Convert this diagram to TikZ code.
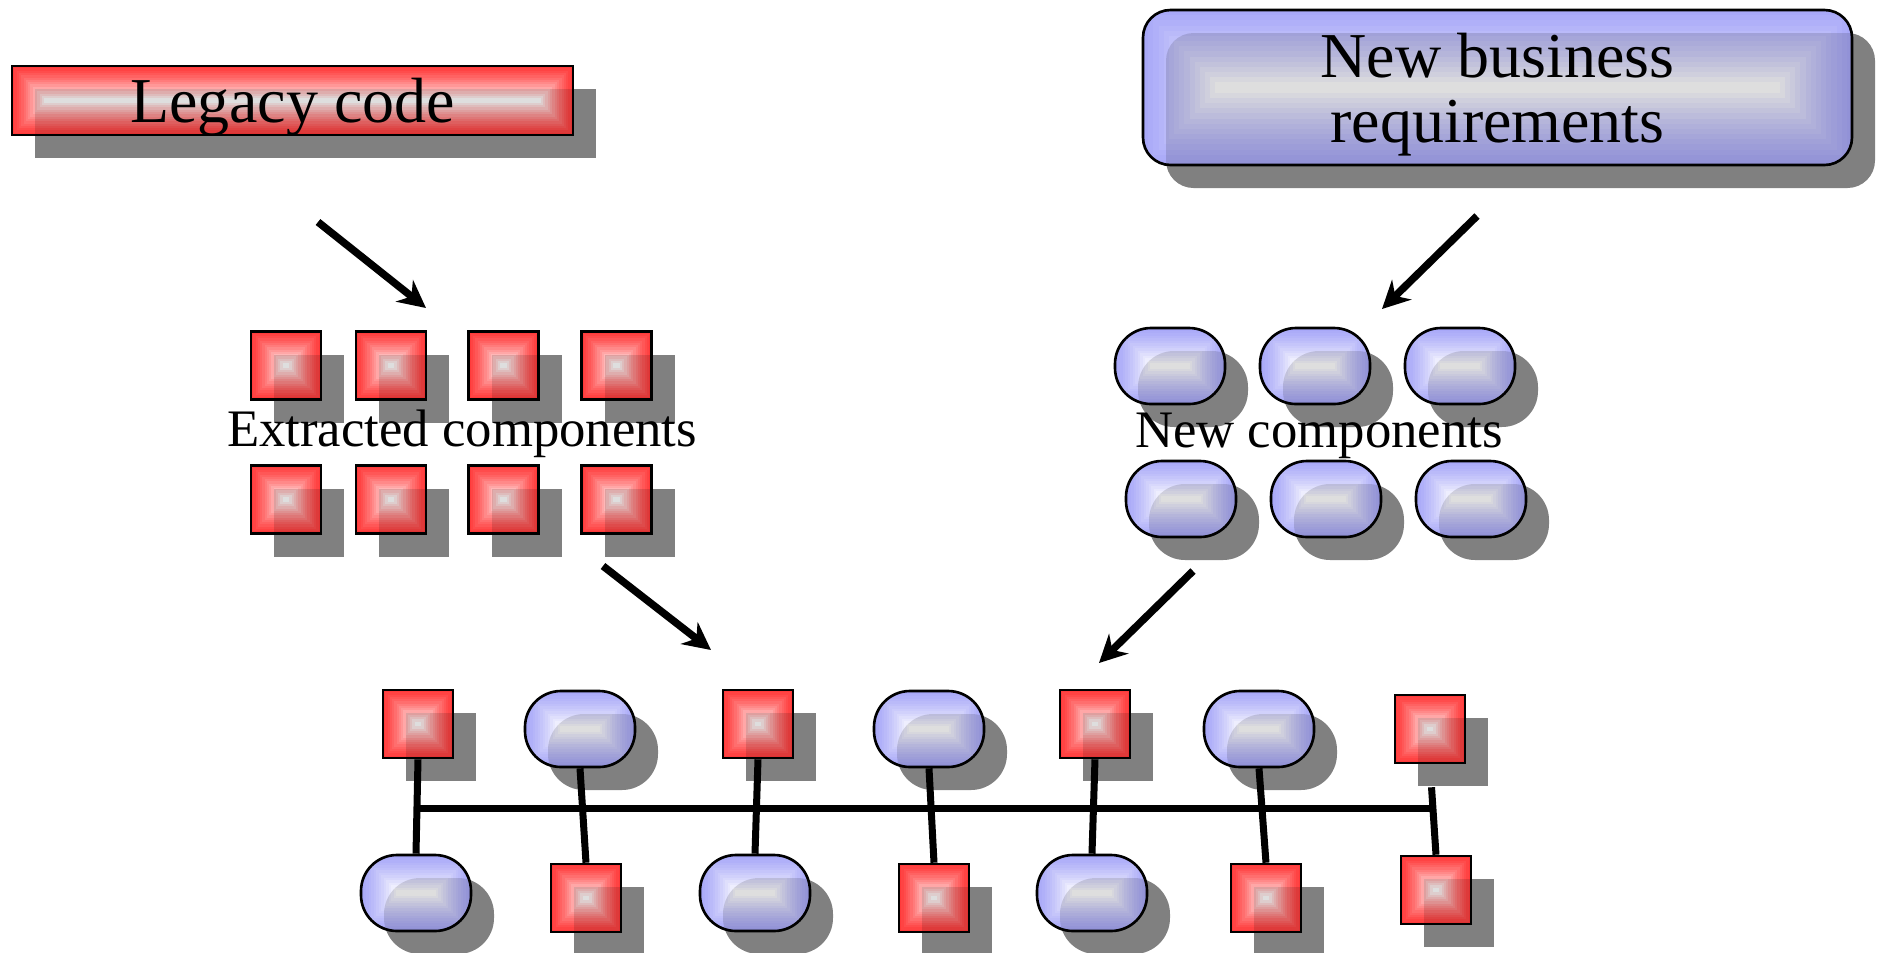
\documentclass[tikz,border=0pt]{standalone}
\usepackage{fontspec}
\setmainfont{Liberation Serif}
\usetikzlibrary{arrows.meta,calc,shadows}
\definecolor{compred}{HTML}{FF3A3A}
\definecolor{compblue}{HTML}{A8A8F8}
\definecolor{shadowgrey}{HTML}{808080}

\tikzset{
glossy/.style 2 args={draw=black,line width=1.5pt,rounded corners=#2,inner sep=0pt,
  drop shadow={shadow xshift=0.46cm,shadow yshift=-0.46cm,opacity=1,fill=shadowgrey},
  path picture={
    \coordinate (pp sw) at (path picture bounding box.south west);
    \coordinate (pp ne) at (path picture bounding box.north east);
    \foreach \i [evaluate=\i as \pct using {100-60*\i/14-40*(\i/14)*(\i/14)}] in {0,...,14}
      \fill[#1!\pct!white,sharp corners] let \p1=(pp sw),\p2=(pp ne),\n1={(\y2-\y1)*\i/30} in
        (\x1+\n1,\y1+\n1) rectangle (\x2-\n1,\y2-\n1);
    \fill[black,opacity=.13,rounded corners=#2] ($(pp sw)+(0.46,-0.46)$) rectangle ($(pp ne)+(0.46,-0.46)$);
  }}
}

\begin{document}
\begin{tikzpicture}[
every node/.style={font=\fontsize{30}{32}\selectfont},
big/.style={font=\fontsize{36.4}{37}\selectfont,align=center,text depth=0pt},
legacybox/.style={glossy={compred}{0pt},big,minimum width=11.22cm,minimum height=1.38cm},
reqbox/.style={glossy={compblue}{0.55cm},big,minimum width=14.18cm,minimum height=3.1cm},
oldcomp/.style={glossy={compred}{0pt},minimum width=1.4cm,minimum height=1.36cm},
newcomp/.style={glossy={compblue}{0.72cm},minimum width=2.2cm,minimum height=1.52cm},
caption/.style={anchor=base,inner sep=0pt},
arr/.style={-{Stealth[length=0.55cm,width=0.55cm]},line width=0.15cm},
wire/.style={line width=0.14cm}
]
\useasboundingbox (0,0) rectangle (37.6,-19.04);

\node[legacybox] (legacy) at (5.85,-2.01) {Legacy code};
\node[reqbox] (req) at (29.95,-1.75) {New business\\requirements};

% extracted and new components
\foreach \xx [count=\k] in {5.72,7.82,10.07,12.33}{
  \node[oldcomp] (xt\k) at (\xx,-7.31) {};
  \node[oldcomp] (xb\k) at (\xx,-9.99) {};
}
\foreach \xx [count=\k] in {23.4,26.3,29.2}{
  \node[newcomp] (nt\k) at (\xx,-7.32) {};
  \node[newcomp] (nb\k) at (\xx+0.22,-9.98) {};
}
\node[caption] (xlabel) at (9.24,-8.92) {Extracted components};
\node[caption] (nlabel) at (26.38,-8.94) {New components};

% assembled system
\node[oldcomp] (t1) at (8.36,-14.48) {};
\node[newcomp] (t2) at (11.6,-14.58) {};
\node[oldcomp] (t3) at (15.16,-14.48) {};
\node[newcomp] (t4) at (18.58,-14.58) {};
\node[oldcomp] (t5) at (21.9,-14.48) {};
\node[newcomp] (t6) at (25.18,-14.58) {};
\node[oldcomp] (t7) at (28.6,-14.58) {};

\node[newcomp] (b1) at (8.32,-17.86) {};
\node[oldcomp] (b2) at (11.72,-17.96) {};
\node[newcomp] (b3) at (15.1,-17.86) {};
\node[oldcomp] (b4) at (18.68,-17.96) {};
\node[newcomp] (b5) at (21.84,-17.86) {};
\node[oldcomp] (b6) at (25.32,-17.96) {};
\node[oldcomp] (b7) at (28.72,-17.8) {};

\coordinate (bus) at (0,-16.16);
\foreach \k in {1,...,6}
  \draw[wire] (t\k.south) -- (b\k.north);
\draw[wire,shorten <=0.46cm] (t7.south) -- (b7.north);
\draw[wire] (t1.south |- bus) -- (t7.south |- bus);

\coordinate (legacy out) at (6.36,-4.44);
\coordinate (extract in) at (8.52,-6.16);
\coordinate (req out) at (29.54,-4.32);
\coordinate (newc in) at (27.64,-6.18);
\coordinate (extract out) at (12.06,-11.32);
\coordinate (sys in1) at (14.22,-13.0);
\coordinate (newc out) at (23.86,-11.42);
\coordinate (sys in2) at (21.98,-13.26);

\draw[arr] (legacy out) -- (extract in);
\draw[arr] (req out) -- (newc in);
\draw[arr] (extract out) -- (sys in1);
\draw[arr] (newc out) -- (sys in2);
\end{tikzpicture}
\end{document}
